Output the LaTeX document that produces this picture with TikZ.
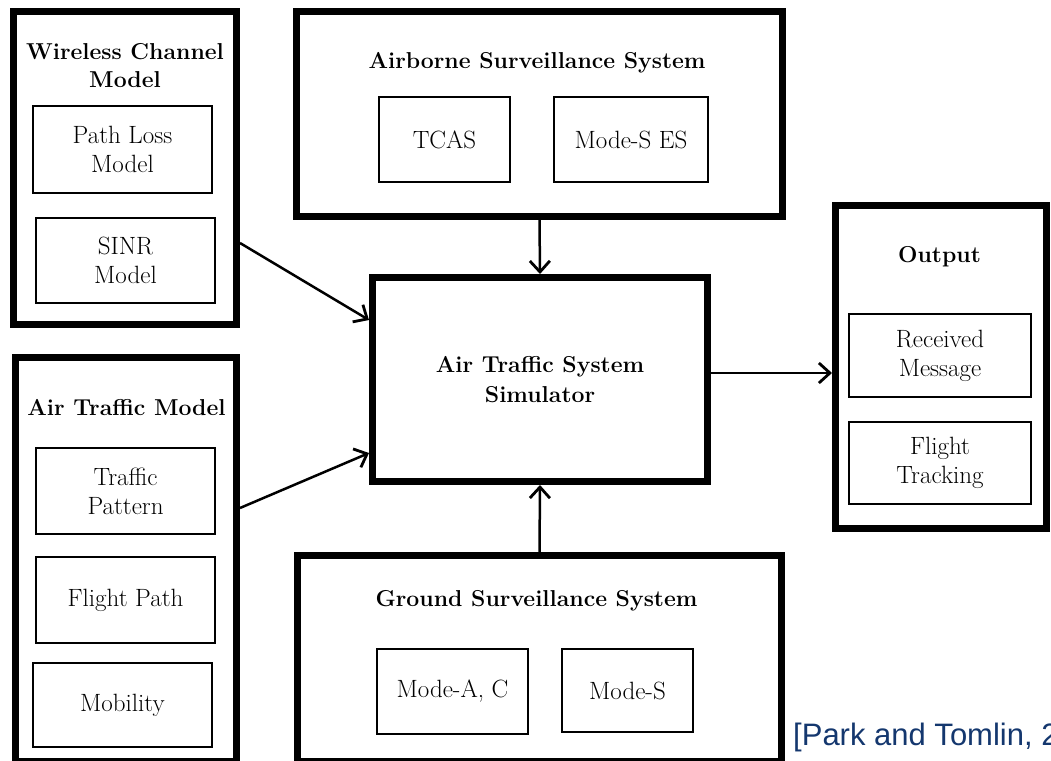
\documentclass[tikz,border=0pt]{standalone}
\usepackage{fontspec}
\newfontfamily\citefont{Liberation Sans}
\usetikzlibrary{arrows.meta}
\definecolor{citeblue}{RGB}{20,55,110}
\begin{document}
\begin{tikzpicture}[x=1pt,y=-1pt,
  groupbox/.style={draw, line width=7pt, inner sep=0pt, align=center,
    font=\fontsize{23}{30}\selectfont\bfseries},
  partbox/.style={draw, line width=2pt, inner sep=0pt, align=center,
    font=\fontsize{25}{29}\selectfont},
  grouptitle/.style={inner sep=0pt, align=center,
    font=\fontsize{23}{28}\selectfont\bfseries},
  flow/.style={line width=2.5pt,
    -{Straight Barb[length=11pt,width=20pt,line width=2.8pt]}}
]
\useasboundingbox (0,0) rectangle (1051,760);

% Wireless channel model
\node[groupbox, minimum width=223pt, minimum height=313pt] (wcm) at (125,168) {};
\node[grouptitle] (wcmtitle) at (125,66) {Wireless Channel\\Model};
\node[partbox, minimum width=179pt, minimum height=87pt] (pathloss) at (122.5,149.5) {Path Loss\\Model};
\node[partbox, minimum width=179pt, minimum height=85pt] (sinr) at (125.5,260.5) {SINR\\Model};

% Air traffic model (runs off the lower edge)
\node[groupbox, minimum width=221pt, minimum height=403.5pt] (atm) at (126,559.25) {};
\node[grouptitle] (atmtitle) at (126.5,408) {Air Traffic Model};
\node[partbox, minimum width=179pt, minimum height=86pt] (pattern) at (125.5,491) {Traffic\\Pattern};
\node[partbox, minimum width=179pt, minimum height=86pt] (fpath) at (125.5,600) {Flight Path};
\node[partbox, minimum width=179pt, minimum height=84pt] (mobility) at (122.5,705) {Mobility};

% Airborne surveillance system
\node[groupbox, minimum width=486pt, minimum height=205pt] (abs) at (539.5,114) {};
\node[grouptitle] (abstitle) at (537,63) {Airborne Surveillance System};
\node[partbox, minimum width=131pt, minimum height=85pt] (tcas) at (444.5,139.5) {TCAS};
\node[partbox, minimum width=154pt, minimum height=85pt] (modeses) at (631,139.5) {Mode-S ES};

% Simulator
\node[groupbox, minimum width=335pt, minimum height=204pt] (sim) at (540,379.5) {Air Traffic System\\Simulator};

% Output
\node[groupbox, minimum width=211pt, minimum height=323pt] (out) at (941,367) {};
\node[grouptitle] (outtitle) at (939.5,257) {Output};
\node[partbox, minimum width=182pt, minimum height=83pt] (received) at (940,355.5) {Received\\Message};
\node[partbox, minimum width=182pt, minimum height=82pt] (tracking) at (940,463) {Flight\\Tracking};

% Ground surveillance system (runs off the lower edge)
\node[groupbox, minimum width=484pt, minimum height=205.5pt] (gss) at (539.5,658.25) {};
\node[grouptitle] (gsstitle) at (536.5,601) {Ground Surveillance System};
\node[partbox, minimum width=151pt, minimum height=85pt] (modeac) at (452.5,691.5) {Mode-A, C};
\node[partbox, minimum width=131pt, minimum height=83pt] (modes) at (627.5,690.5) {Mode-S};

% Connectors
\draw[flow] ([yshift=-75pt]wcm.east) -- ([yshift=59.5pt]sim.west);
\draw[flow] ([yshift=51.25pt]atm.east) -- ([yshift=-73.5pt]sim.west);
\draw[flow] (abs.south) -- (sim.north);
\draw[flow] (gss.north) -- (sim.south);
\draw[flow] ([yshift=6.5pt]sim.east) -- ([yshift=-6pt]out.west);

% Citation
\node[anchor=base west, inner sep=0pt, text=citeblue,
  font=\citefont\fontsize{31}{35}\selectfont] (cite) at (793,745) {[Park and Tomlin, 2};
\end{tikzpicture}
\end{document}
